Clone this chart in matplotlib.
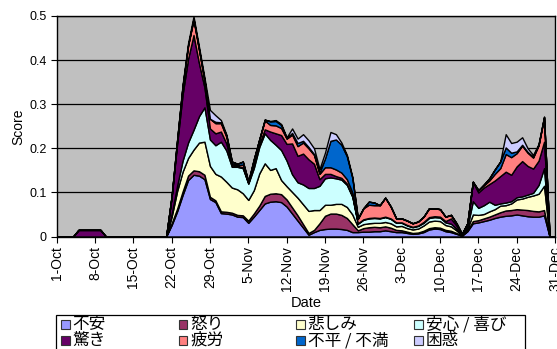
import datetime as dt
import numpy as np
import matplotlib
matplotlib.use("Agg")
import matplotlib.pyplot as plt
from matplotlib.patches import Rectangle

plt.rcParams["font.family"] = ["Liberation Sans", "Noto Sans CJK JP", "DejaVu Sans"]

# Daily scores, 1 Oct .. 31 Dec (92 days), stacked in this order
series_names = ["不安", "怒り", "悲しみ", "安心 / 喜び", "驚き", "疲労", "不平 / 不満", "困惑"]
series_colors = ["#9999FF", "#993366", "#FFFFCC", "#CCFFFF", "#660066", "#FF8080", "#0066CC", "#CCCCFF"]

anxiety = [0, 0, 0, 0, 0, 0, 0, 0, 0, 0, 0, 0, 0, 0, 0, 0, 0, 0, 0, 0, 0,
           .026, .057, .094, .128, .140, .138, .130, .085, .078, .053,
           .052, .050, .045, .044, .031, .045, .060, .075, .079, .080,
           .078, .068, .052, .036, .020, .004, .010, .015, .017, .018,
           .018, .017, .015, .010, .010, .011, .011, .012, .012, .014,
           .012, .010, .010, .008, .006, .007, .010, .016, .018, .017,
           .012, .010, .006, .002, .012, .030, .032, .035, .038, .042,
           .045, .047, .048, .050, .048, .046, .045, .045, .048, 0, 0]
anger = [0, 0, 0, 0, 0, 0, 0, 0, 0, 0, 0, 0, 0, 0, 0, 0, 0, 0, 0, 0, 0,
         .004, .006, .008, .010, .010, .010, .010, .005, .004, .004,
         .004, .004, .004, .004, .005, .007, .010, .017, .018, .018,
         .018, .016, .014, .012, .008, .004, .005, .015, .030, .034,
         .034, .032, .027, .018, .004, .008, .010, .010, .009, .009,
         .008, .005, .004, .003, .002, .002, .003, .003, .003, .003,
         .003, .003, .002, 0, .002, .005, .005, .006, .007, .008,
         .010, .012, .012, .012, .013, .014, .013, .012, .012, 0, 0]
sadness = [0, 0, 0, 0, 0, 0, 0, 0, 0, 0, 0, 0, 0, 0, 0, 0, 0, 0, 0, 0, 0,
           .015, .040, .045, .040, .047, .065, .075, .070, .060, .079,
           .068, .057, .058, .050, .047, .053, .073, .074, .054, .057,
           .032, .030, .035, .040, .045, .050, .045, .030, .025, .020,
           .022, .025, .025, .022, .008, .009, .009, .009, .010, .010,
           .010, .008, .010, .008, .008, .009, .012, .015, .015, .015,
           .011, .010, .006, .001, .004, .015, .012, .010, .012, .012,
           .015, .012, .015, .022, .025, .030, .035, .040, .055, 0, 0]
relief = [0, 0, 0, 0, 0, 0, 0, 0, 0, 0, 0, 0, 0, 0, 0, 0, 0, 0, 0, 0, 0,
          .006, .012, .025, .035, .045, .060, .078, .060, .065, .079,
          .071, .047, .051, .057, .037, .050, .060, .068, .068, .053,
          .068, .058, .040, .035, .045, .052, .050, .055, .060, .062,
          .058, .055, .050, .040, .007, .010, .011, .011, .010, .011,
          .010, .008, .007, .006, .005, .006, .006, .008, .008, .008,
          .006, .006, .004, .001, .004, .030, .016, .020, .022, .010,
          .005, .006, .005, .005, .005, .005, .006, .020, .040, 0, 0]
surprise = [0, 0, 0, 0, .015, .015, .015, .015, .015, 0, 0, 0, 0, 0, 0, 0, 0, 0, 0, 0, 0,
            .038, .095, .150, .190, .215, .120, .045, .025, .027, .023,
            .016, .004, .002, .002, .001, .008, .007, .009, .019, .026,
            .034, .038, .070, .060, .070, .065, .055, .015, .010, .008,
            .005, .004, .003, .002, .001, .001, .001, .001, .001, .001,
            .001, .001, .001, .001, .001, .001, .002, .002, .002, .002,
            .003, .012, .007, .001, .008, .044, .035, .040, .040, .055,
            .062, .070, .060, .070, .080, .065, .055, .055, .060, 0, 0]
fatigue = [0, 0, 0, 0, 0, 0, 0, 0, 0, 0, 0, 0, 0, 0, 0, 0, 0, 0, 0, 0, 0,
           .002, .007, .018, .030, .035, .030, .015, .022, .023, .019,
           .015, .004, .002, .006, .002, .010, .010, .020, .015, .018,
           .016, .012, .020, .022, .025, .025, .020, .012, .015, .015,
           .015, .012, .010, .008, .010, .025, .030, .028, .029, .043,
           .027, .009, .009, .010, .008, .009, .012, .020, .018, .017,
           .010, .008, .005, .001, 0, 0, .005, .005, .008, .015,
           .018, .040, .040, .030, .035, .030, .025, .035, .055, 0, 0]
discontent = [0, 0, 0, 0, 0, 0, 0, 0, 0, 0, 0, 0, 0, 0, 0, 0, 0, 0, 0, 0, 0,
              0, 0, 0, 0, .002, .002, .002, 0, .003, .002,
              .003, .004, .003, .007, .002, .002, 0, .002, .008, .010,
              .007, .001, .004, .007, .004, .003, .002, .003, .020, .060,
              .068, .063, .052, .033, .001, 0, .007, .006, 0, 0,
              0, 0, 0, 0, 0, 0, 0, 0, 0, 0,
              0, 0, 0, 0, 0, 0, 0, .002, .005, .010,
              .015, .015, .010, .004, .002, .002, .002, .001, .001, 0, 0]
confusion = [0, 0, 0, 0, 0, 0, 0, 0, 0, 0, 0, 0, 0, 0, 0, 0, 0, 0, 0, 0, 0,
             0, .002, .004, .005, .005, .005, .005, .020, .015, .005,
             .002, 0, 0, 0, 0, 0, 0, 0, .001, .002,
             .002, .002, .010, .010, .015, .015, .013, .008, .013, .020,
             .012, .005, .003, .002, 0, 0, 0, 0, 0, 0,
             0, 0, 0, 0, 0, 0, 0, 0, 0, 0,
             0, 0, 0, 0, 0, 0, 0, 0, 0, 0,
             0, .030, .022, .022, .017, .008, .004, .002, .001, 0, 0]

series_values = [anxiety, anger, sadness, relief, surprise, fatigue, discontent, confusion]

start_date = dt.date(2006, 10, 1)
n_days = len(anxiety)
days = np.arange(n_days)
tick_days = list(range(0, n_days, 7))
tick_labels = [f"{(start_date + dt.timedelta(days=int(d))).day}-"
               f"{(start_date + dt.timedelta(days=int(d))).strftime('%b')}" for d in tick_days]

W, H = 557, 349
fig = plt.figure(figsize=(W / 100, H / 100), dpi=100)
fig.patch.set_facecolor("white")

left, right, top, bottom = 56.6, 555.0, 16.0, 236.5
ax = fig.add_axes([left / W, 1 - bottom / H, (right - left) / W, (bottom - top) / H])
ax.set_facecolor("#C0C0C0")

ax.stackplot(days, *series_values, colors=series_colors,
             edgecolor="black", linewidth=1.0)

ax.set_xlim(0, n_days - 1)
ax.set_ylim(0, 0.5)
yt = np.round(np.arange(0, 0.51, 0.1), 1)
ax.set_yticks(yt)
ax.set_yticklabels(["0" if v == 0 else f"{v:.1f}" for v in yt], fontsize=9)
ax.yaxis.grid(True, color="black", linewidth=0.9)
ax.set_axisbelow(True)

ax.set_xticks(tick_days)
ax.set_xticklabels(tick_labels, rotation=90, fontsize=10)
ax.tick_params(axis="x", direction="out", length=4, width=0.8, pad=3)
ax.tick_params(axis="y", direction="out", length=4, width=0.8, pad=3)
for s in ax.spines.values():
    s.set_color("black")
    s.set_linewidth(1.0)

fig.text(18 / W, 1 - 127 / H, "Score", rotation=90, ha="center", va="center", fontsize=10)
fig.text(306 / W, 1 - 303 / H, "Date", ha="center", va="center", fontsize=10.5)

# Legend box, four columns by two rows
box_l, box_t, box_r, box_b = 56.0, 315.0, 525.0, 358.0
fig.patches.append(Rectangle((box_l / W, 1 - box_b / H), (box_r - box_l) / W, (box_b - box_t) / H,
                             transform=fig.transFigure, facecolor="white",
                             edgecolor="black", linewidth=0.9))
col_x = [65.5, 183.0, 300.6, 418.5]
row_y = [324.5, 340.5]
sq = 8.5
for i, (name, color) in enumerate(zip(series_names, series_colors)):
    cx = col_x[i % 4]
    cy = row_y[i // 4]
    fig.patches.append(Rectangle(((cx - sq / 2) / W, 1 - (cy + sq / 2) / H), sq / W, sq / H,
                                 transform=fig.transFigure, facecolor=color,
                                 edgecolor="#333333", linewidth=0.8))
    fig.text((cx + 7) / W, 1 - cy / H, name, ha="left", va="center", fontsize=12,
             family=["Noto Sans CJK JP", "DejaVu Sans"])

fig.savefig("out.png", dpi=100)
